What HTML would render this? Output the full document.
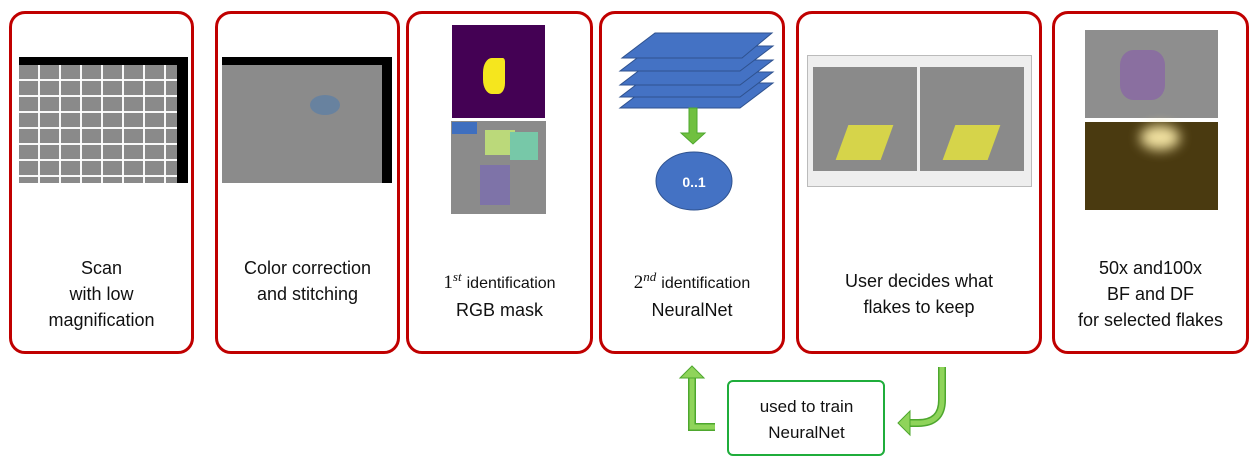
<!DOCTYPE html>
<html><head><meta charset="utf-8"><style>
body{margin:0;width:1258px;height:466px;background:#fff;position:relative;overflow:hidden;font-family:"Liberation Sans",sans-serif;}
.box{position:absolute;top:11px;height:337px;border:3px solid #c00000;border-radius:16px;box-sizing:content-box;}
.t{position:absolute;left:0;right:0;text-align:center;font-size:18px;line-height:26px;color:#111;}
.img{position:absolute;}
sup{font-family:"Liberation Serif",serif;font-style:italic;font-size:13px;}
</style></head><body>
<div class="box" style="left:9px;width:179px"></div>
<div class="box" style="left:215px;width:179px"></div>
<div class="box" style="left:406px;width:181px"></div>
<div class="box" style="left:599px;width:180px"></div>
<div class="box" style="left:796px;width:240px"></div>
<div class="box" style="left:1052px;width:191px"></div>

<div class="img" style="left:19px;top:57px;width:169px;height:126px;background:#000"></div>
<div class="img" style="left:19px;top:65px;width:158px;height:118px;background:#8a8a8a;background-image:linear-gradient(90deg,transparent 19px,rgba(255,255,255,.95) 19px,rgba(255,255,255,.95) 21px),linear-gradient(transparent 14px,rgba(255,255,255,.95) 14px,rgba(255,255,255,.95) 16px);background-size:21px 16px"></div>
<div class="img" style="left:222px;top:57px;width:170px;height:126px;background:#000"></div>
<div class="img" style="left:222px;top:65px;width:160px;height:118px;background:#8b8b8b"></div>
<div class="img" style="left:310px;top:95px;width:30px;height:20px;background:#5a7fa8;border-radius:50%;opacity:.7"></div>

<div class="img" style="left:452px;top:25px;width:93px;height:93px;background:#440154"></div>
<div class="img" style="left:483px;top:58px;width:22px;height:36px;background:#f5e61e;border-radius:40% 10% 30% 40%"></div>
<div class="img" style="left:451px;top:121px;width:95px;height:93px;background:#8b8b8b"></div>
<div class="img" style="left:485px;top:130px;width:30px;height:25px;background:#bbd97a"></div>
<div class="img" style="left:510px;top:132px;width:28px;height:28px;background:#77c8a8"></div>
<div class="img" style="left:480px;top:165px;width:30px;height:40px;background:#7e73a8"></div>
<div class="img" style="left:452px;top:122px;width:25px;height:12px;background:#3f6fbf"></div>

<svg class="img" style="left:0;top:0" width="1258" height="466">
<g fill="#4472c4" stroke="#2f528f" stroke-width="1">
<polygon points="620,108 740,108 773,83 653,83"/>
<polygon points="620,97 740,97 773,72 653,72"/>
<polygon points="620,85 740,85 773,60 653,60"/>
<polygon points="620,71 740,71 773,46 653,46"/>
<polygon points="622,58 742,58 772,33 655,33"/>
</g>
<polygon points="689,108 697,108 697,133 705,133 693,144 681,133 689,133" fill="#70c040" stroke="#4ea72e"/>
<ellipse cx="694" cy="181" rx="38" ry="29" fill="#4472c4" stroke="#2f528f"/>
<text x="694" y="187" text-anchor="middle" fill="#fff" font-weight="bold" font-size="14" font-family="Liberation Sans">0..1</text>
<path d="M715,427 L692,427 L692,375" fill="none" stroke="#4ea72e" stroke-width="8"/>
<path d="M715,427 L692,427 L692,375" fill="none" stroke="#8fd45a" stroke-width="5"/>
<polygon points="680,378 692,366 704,378" fill="#8fd45a" stroke="#4ea72e"/>
<path d="M942,367 L942,400 Q942,423 918,423 L908,423" fill="none" stroke="#4ea72e" stroke-width="8"/>
<path d="M942,367 L942,400 Q942,423 918,423 L908,423" fill="none" stroke="#8fd45a" stroke-width="5"/>
<polygon points="910,411 898,423 910,435" fill="#8fd45a" stroke="#4ea72e"/>
</svg>

<div class="img" style="left:807px;top:55px;width:223px;height:130px;background:#eee;border:1px solid #bbb"></div>
<div class="img" style="left:813px;top:67px;width:104px;height:104px;background:#8a8a8a"></div>
<div class="img" style="left:920px;top:67px;width:104px;height:104px;background:#8a8a8a"></div>
<div class="img" style="left:842px;top:125px;width:45px;height:35px;background:#d6d44a;transform:skew(-20deg)"></div>
<div class="img" style="left:949px;top:125px;width:45px;height:35px;background:#d6d44a;transform:skew(-20deg)"></div>

<div class="img" style="left:1085px;top:30px;width:133px;height:88px;background:#8e8e8e"></div>
<div class="img" style="left:1120px;top:50px;width:45px;height:50px;background:#8a6fa0;border-radius:30%"></div>
<div class="img" style="left:1085px;top:122px;width:133px;height:88px;background:#4a3a10"></div>
<div class="img" style="left:1140px;top:125px;width:40px;height:25px;background:#f0e0a0;border-radius:50%;filter:blur(6px)"></div>

<div class="t" style="left:9px;width:185px;top:255px">Scan<br>with low<br>magnification</div>
<div class="t" style="left:215px;width:185px;top:255px">Color correction<br>and stitching</div>
<div class="t" style="left:406px;width:187px;top:264px"><span style="font-family:'Liberation Serif',serif;font-size:19px">1</span><sup>st</sup> <span style="font-size:16px">identification</span><br>RGB mask</div>
<div class="t" style="left:599px;width:186px;top:264px"><span style="font-family:'Liberation Serif',serif;font-size:19px">2</span><sup>nd</sup> <span style="font-size:16px">identification</span><br>NeuralNet</div>
<div class="t" style="left:796px;width:246px;top:268px">User decides what<br>flakes to keep</div>
<div class="t" style="left:1052px;width:197px;top:255px">50x and100x<br>BF and DF<br>for selected flakes</div>

<div style="position:absolute;left:727px;top:380px;width:154px;height:72px;border:2.5px solid #1fad3b;border-radius:6px"></div>
<div class="t" style="left:727px;width:159px;top:394px;font-size:17px">used to train<br>NeuralNet</div>
</body></html>
